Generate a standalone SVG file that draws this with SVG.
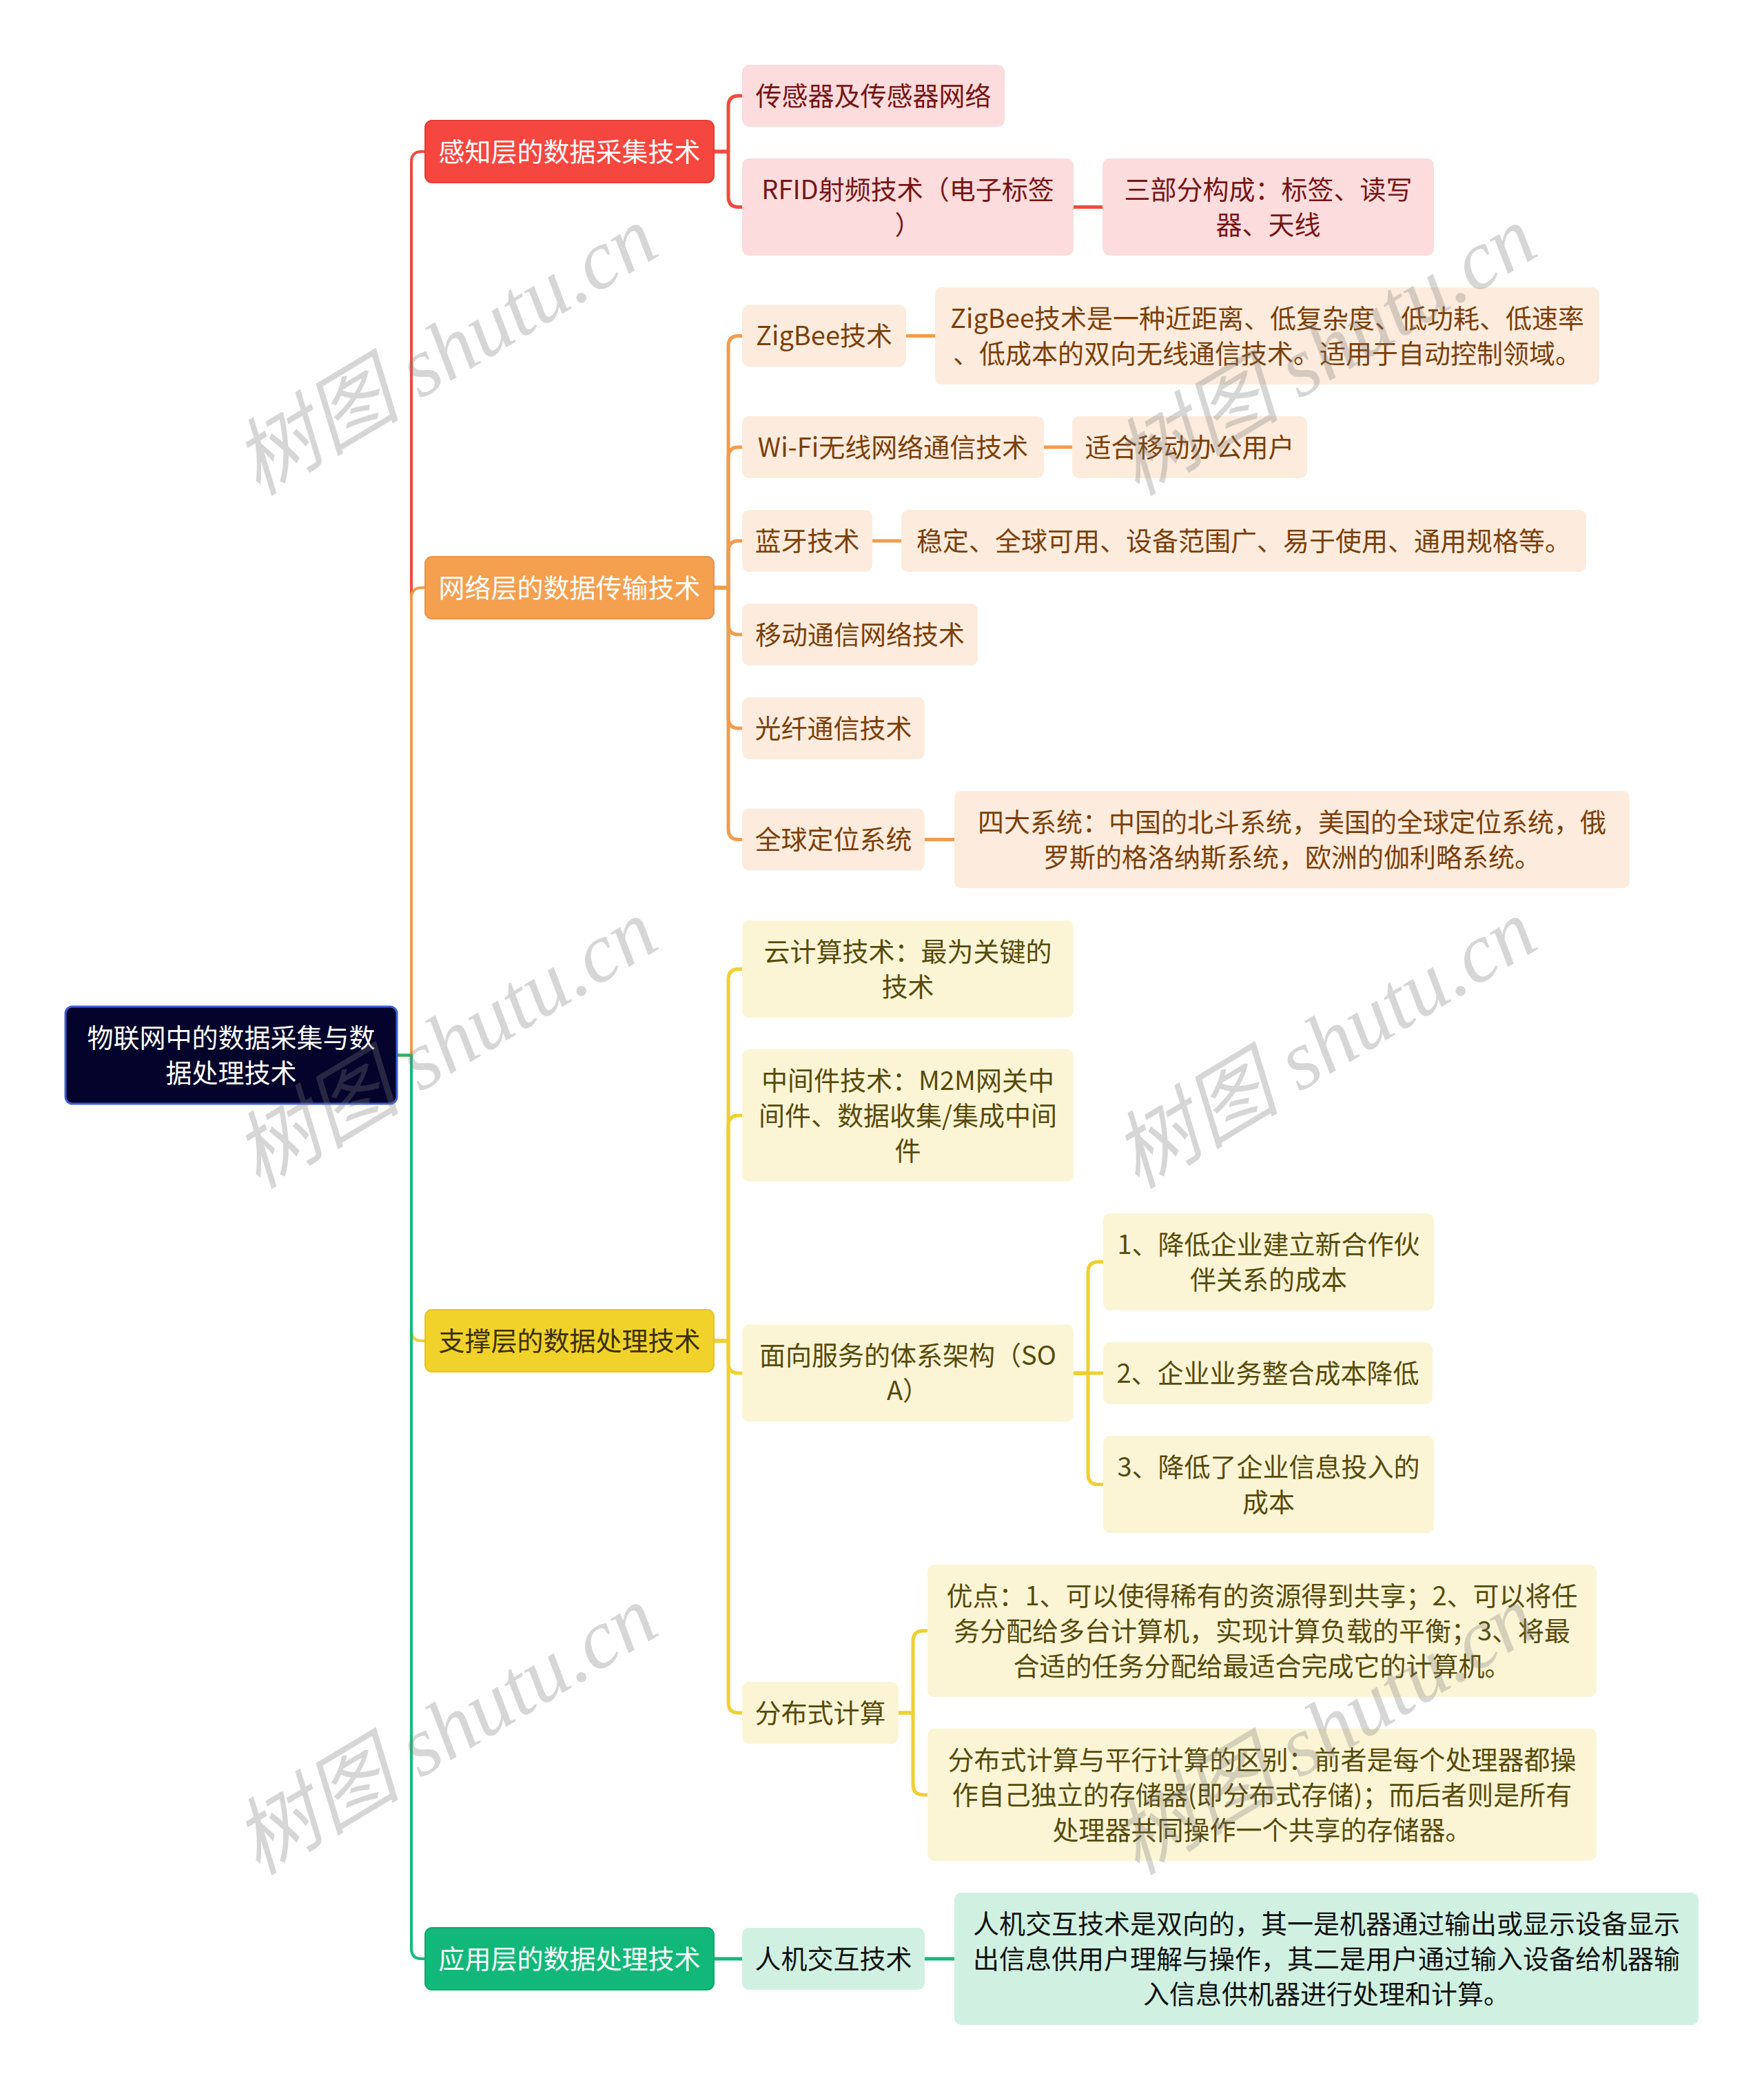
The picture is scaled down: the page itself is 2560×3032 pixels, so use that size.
<svg xmlns="http://www.w3.org/2000/svg" width="2560" height="3032" viewBox="0 0 2560 3032">
<style>
text{font-family:"Noto Sans CJK SC","Noto Sans",sans-serif;font-size:38px;text-anchor:middle}
.wt{fill:#fff}
.c1{fill:none;stroke-width:4;stroke-linejoin:round}
.c2{fill:none;stroke-width:5;stroke-linejoin:round}
.sr{stroke:#ef4a40}.so{stroke:#f29c4c}.sy{stroke:#efd030}.sg{stroke:#16b97a}
.fr1{fill:#f5473f;stroke:#e23c34;stroke-width:2}
.fo1{fill:#f4a04f;stroke:#e8934a;stroke-width:2}
.fy1{fill:#f0d22b;stroke:#e3c526;stroke-width:2}
.fg1{fill:#12b879;stroke:#10a86e;stroke-width:2}
.fr2{fill:#fcdcdc}.fo2{fill:#fdecdd}.fy2{fill:#fcf5d5}.fg2{fill:#d0f1e2}
.tr{fill:#751515}.to{fill:#7b3f0a}.ty{fill:#574a0a}.ty1{fill:#3a3000}.tg{fill:#111}
.wm{font-family:"Liberation Serif","Noto Sans CJK SC",serif;font-style:italic;font-size:122px;fill:#7a7a7a;opacity:0.3}
</style>
<rect width="2560" height="3032" fill="#fff"/>
<g id="connectors">
<path class="c1 sr" d="M576 1531.5H597V235Q597 220 612 220H617"/>
<path class="c1 so" d="M576 1531.5H597V868Q597 853 612 853H617"/>
<path class="c1 sy" d="M576 1531.5H597V1931Q597 1946 612 1946H617"/>
<path class="c1 sg" d="M576 1531.5H597V2828Q597 2843 612 2843H617"/>
<path class="c2 sr" d="M1036 220H1057V154Q1057 139 1072 139H1077"/>
<path class="c2 sr" d="M1036 220H1057V285.5Q1057 300.5 1072 300.5H1077"/>
<path class="c2 sr" d="M1558 300.5H1600"/>
<path class="c2 so" d="M1036 853H1057V502.5Q1057 487.5 1072 487.5H1077"/>
<path class="c2 so" d="M1036 853H1057V664Q1057 649 1072 649H1077"/>
<path class="c2 so" d="M1036 853H1057V800Q1057 785 1072 785H1077"/>
<path class="c2 so" d="M1036 853H1057V906Q1057 921 1072 921H1077"/>
<path class="c2 so" d="M1036 853H1057V1042Q1057 1057 1072 1057H1077"/>
<path class="c2 so" d="M1036 853H1057V1203.5Q1057 1218.5 1072 1218.5H1077"/>
<path class="c2 so" d="M1315 487.5H1357"/>
<path class="c2 so" d="M1515 649H1556"/>
<path class="c2 so" d="M1266 785H1308"/>
<path class="c2 so" d="M1342 1218.5H1385"/>
<path class="c2 sy" d="M1036 1946H1057V1421.5Q1057 1406.5 1072 1406.5H1077"/>
<path class="c2 sy" d="M1036 1946H1057V1634Q1057 1619 1072 1619H1077"/>
<path class="c2 sy" d="M1036 1946H1057V1978Q1057 1993 1072 1993H1077"/>
<path class="c2 sy" d="M1036 1946H1057V2471Q1057 2486 1072 2486H1077"/>
<path class="c2 sy" d="M1558 1993H1579V1846.5Q1579 1831.5 1594 1831.5H1601"/>
<path class="c2 sy" d="M1558 1993H1601"/>
<path class="c2 sy" d="M1558 1993H1579V2139.5Q1579 2154.5 1594 2154.5H1601"/>
<path class="c2 sy" d="M1304 2486H1325V2382Q1325 2367 1340 2367H1346"/>
<path class="c2 sy" d="M1304 2486H1325V2590Q1325 2605 1340 2605H1346"/>
<path class="c2 sg" d="M1036 2843H1077"/>
<path class="c2 sg" d="M1342 2843H1385"/>
</g>
<g id="root"><rect x="95" y="1461" width="481" height="141" rx="10" fill="#03032b" stroke="#3f5fd6" stroke-width="3"/><text class="wt"><tspan x="335.5" y="1519.5">物联网中的数据采集与数</tspan><tspan x="335.5" y="1570.5">据处理技术</tspan></text></g>
<g id="n1"><rect class="fr1" x="617" y="175" width="419" height="90" rx="10"/><text class="wt" x="826.5" y="233.5">感知层的数据采集技术</text></g>
<g id="n2"><rect class="fo1" x="617" y="808" width="419" height="90" rx="10"/><text class="wt" x="826.5" y="866.5">网络层的数据传输技术</text></g>
<g id="n3"><rect class="fy1" x="617" y="1901" width="419" height="90" rx="10"/><text class="ty1" x="826.5" y="1959.5">支撑层的数据处理技术</text></g>
<g id="n4"><rect class="fg1" x="617" y="2798" width="419" height="90" rx="10"/><text class="wt" x="826.5" y="2856.5">应用层的数据处理技术</text></g>
<g id="r1"><rect class="fr2" x="1077" y="94" width="381" height="90" rx="10"/><text class="tr" x="1267.5" y="152.5">传感器及传感器网络</text></g>
<g id="r2"><rect class="fr2" x="1077" y="230" width="481" height="141" rx="10"/><text class="tr"><tspan x="1317.5" y="288.5">RFID射频技术（电子标签</tspan><tspan x="1317.5" y="339.5">）</tspan></text></g>
<g id="r3"><rect class="fr2" x="1600" y="230" width="481" height="141" rx="10"/><text class="tr"><tspan x="1840.5" y="288.5">三部分构成：标签、读写</tspan><tspan x="1840.5" y="339.5">器、天线</tspan></text></g>
<g id="o1"><rect class="fo2" x="1077" y="442.5" width="238" height="90" rx="10"/><text class="to" x="1196" y="501">ZigBee技术</text></g>
<g id="o1a"><rect class="fo2" x="1357" y="417" width="964" height="141" rx="10"/><text class="to"><tspan x="1839" y="475.5">ZigBee技术是一种近距离、低复杂度、低功耗、低速率</tspan><tspan x="1839" y="526.5">、低成本的双向无线通信技术。适用于自动控制领域。</tspan></text></g>
<g id="o2"><rect class="fo2" x="1077" y="604" width="438" height="90" rx="10"/><text class="to" x="1296" y="662.5">Wi-Fi无线网络通信技术</text></g>
<g id="o2a"><rect class="fo2" x="1556" y="604" width="341" height="90" rx="10"/><text class="to" x="1726.5" y="662.5">适合移动办公用户</text></g>
<g id="o3"><rect class="fo2" x="1077" y="740" width="189" height="90" rx="10"/><text class="to" x="1171.5" y="798.5">蓝牙技术</text></g>
<g id="o3a"><rect class="fo2" x="1308" y="740" width="994" height="90" rx="10"/><text class="to" x="1805" y="798.5">稳定、全球可用、设备范围广、易于使用、通用规格等。</text></g>
<g id="o4"><rect class="fo2" x="1077" y="876" width="342" height="90" rx="10"/><text class="to" x="1248" y="934.5">移动通信网络技术</text></g>
<g id="o5"><rect class="fo2" x="1077" y="1012" width="265" height="90" rx="10"/><text class="to" x="1209.5" y="1070.5">光纤通信技术</text></g>
<g id="o6"><rect class="fo2" x="1077" y="1173.5" width="265" height="90" rx="10"/><text class="to" x="1209.5" y="1232">全球定位系统</text></g>
<g id="o6a"><rect class="fo2" x="1385" y="1148" width="980" height="141" rx="10"/><text class="to"><tspan x="1875" y="1206.5">四大系统：中国的北斗系统，美国的全球定位系统，俄</tspan><tspan x="1875" y="1257.5">罗斯的格洛纳斯系统，欧洲的伽利略系统。</tspan></text></g>
<g id="y1"><rect class="fy2" x="1077" y="1336" width="481" height="141" rx="10"/><text class="ty"><tspan x="1317.5" y="1394.5">云计算技术：最为关键的</tspan><tspan x="1317.5" y="1445.5">技术</tspan></text></g>
<g id="y2"><rect class="fy2" x="1077" y="1523" width="481" height="192" rx="10"/><text class="ty"><tspan x="1317.5" y="1581.5">中间件技术：M2M网关中</tspan><tspan x="1317.5" y="1632.5">间件、数据收集/集成中间</tspan><tspan x="1317.5" y="1683.5">件</tspan></text></g>
<g id="y3"><rect class="fy2" x="1077" y="1922.5" width="481" height="141" rx="10"/><text class="ty"><tspan x="1317.5" y="1981">面向服务的体系架构（SO</tspan><tspan x="1317.5" y="2032">A）</tspan></text></g>
<g id="y3a"><rect class="fy2" x="1601" y="1761" width="480" height="141" rx="10"/><text class="ty"><tspan x="1841" y="1819.5">1、降低企业建立新合作伙</tspan><tspan x="1841" y="1870.5">伴关系的成本</tspan></text></g>
<g id="y3b"><rect class="fy2" x="1601" y="1948" width="478" height="90" rx="10"/><text class="ty" x="1840" y="2006.5">2、企业业务整合成本降低</text></g>
<g id="y3c"><rect class="fy2" x="1601" y="2084" width="480" height="141" rx="10"/><text class="ty"><tspan x="1841" y="2142.5">3、降低了企业信息投入的</tspan><tspan x="1841" y="2193.5">成本</tspan></text></g>
<g id="y4"><rect class="fy2" x="1077" y="2441" width="227" height="90" rx="10"/><text class="ty" x="1190.5" y="2499.5">分布式计算</text></g>
<g id="y4a"><rect class="fy2" x="1346" y="2271" width="971" height="192" rx="10"/><text class="ty"><tspan x="1831.5" y="2329.5">优点：1、可以使得稀有的资源得到共享；2、可以将任</tspan><tspan x="1831.5" y="2380.5">务分配给多台计算机，实现计算负载的平衡；3、将最</tspan><tspan x="1831.5" y="2431.5">合适的任务分配给最适合完成它的计算机。</tspan></text></g>
<g id="y4b"><rect class="fy2" x="1346" y="2509" width="971" height="192" rx="10"/><text class="ty"><tspan x="1831.5" y="2567.5">分布式计算与平行计算的区别：前者是每个处理器都操</tspan><tspan x="1831.5" y="2618.5">作自己独立的存储器(即分布式存储)；而后者则是所有</tspan><tspan x="1831.5" y="2669.5">处理器共同操作一个共享的存储器。</tspan></text></g>
<g id="g1"><rect class="fg2" x="1077" y="2798" width="265" height="90" rx="10"/><text class="tg" x="1209.5" y="2856.5">人机交互技术</text></g>
<g id="g1a"><rect class="fg2" x="1385" y="2747" width="1080" height="192" rx="10"/><text class="tg"><tspan x="1925" y="2805.5">人机交互技术是双向的，其一是机器通过输出或显示设备显示</tspan><tspan x="1925" y="2856.5">出信息供用户理解与操作，其二是用户通过输入设备给机器输</tspan><tspan x="1925" y="2907.5">入信息供机器进行处理和计算。</tspan></text></g>
<g id="watermarks">
<text class="wm" transform="translate(648 512) rotate(-31)" y="38">树图 shutu.cn</text>
<text class="wm" transform="translate(648 1518) rotate(-31)" y="38">树图 shutu.cn</text>
<text class="wm" transform="translate(648 2514) rotate(-31)" y="38">树图 shutu.cn</text>
<text class="wm" transform="translate(1924 512) rotate(-31)" y="38">树图 shutu.cn</text>
<text class="wm" transform="translate(1924 1518) rotate(-31)" y="38">树图 shutu.cn</text>
<text class="wm" transform="translate(1924 2514) rotate(-31)" y="38">树图 shutu.cn</text>
</g>
</svg>
